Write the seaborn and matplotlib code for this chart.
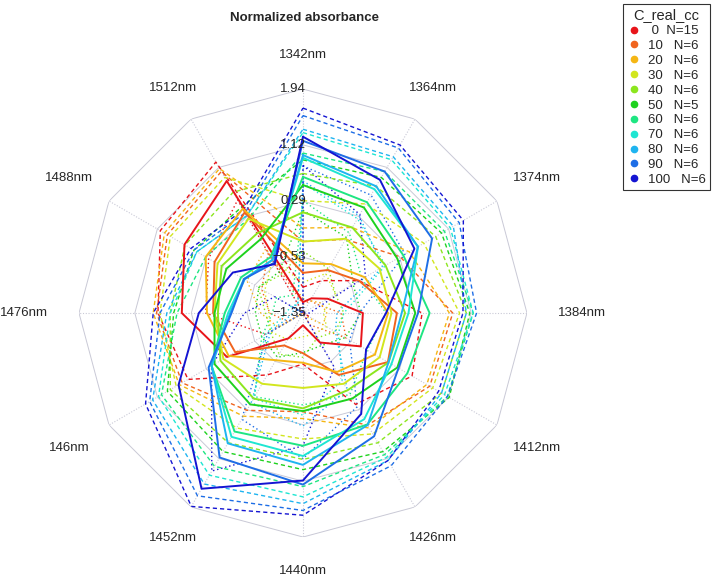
import numpy as np
import pandas as pd
import seaborn as sns
import matplotlib.pyplot as plt
from matplotlib.lines import Line2D
from matplotlib.transforms import offset_copy

# spokes, clockwise from the top
wavelengths = ["1342nm", "1364nm", "1374nm", "1384nm", "1412nm", "1426nm",
               "1440nm", "1452nm", "146nm", "1476nm", "1488nm", "1512nm"]
ticks = [-1.35, -0.53, 0.29, 1.12, 1.94]
conc = [0, 10, 20, 30, 40, 50, 60, 70, 80, 90, 100]
counts = [15, 6, 6, 6, 6, 5, 6, 6, 6, 6, 6]
colors = ["#e8141a", "#f0641e", "#f5b614", "#d2e61e", "#8ce61e", "#1ed21e",
          "#1ee682", "#1ee6d2", "#1eb4f0", "#1e6ee6", "#1414d2"]

# group means (solid lines)
mean_0 = [-1.19, -1.10, -0.93, -0.47, -0.37, -0.85, -1.17, -0.92, -0.06, 0.43, 0.66, 0.89]
mean_10 = [-0.76, -0.62, -0.40, 0.03, 0.09, -0.30, -0.76, -0.80, -0.20, -0.03, 0.15, 0.36]
mean_20 = [-0.62, -0.52, -0.30, -0.10, -0.13, -0.35, -0.62, -0.55, -0.09, 0.06, 0.30, 0.42]
mean_30 = [-0.30, -0.09, -0.05, -0.05, -0.05, -0.15, -0.25, -0.15, 0.00, -0.05, 0.10, 0.25]
mean_40 = [0.13, 0.10, 0.05, 0.15, 0.10, -0.04, 0.05, 0.10, 0.05, -0.10, 0.03, 0.00]
mean_50 = [0.53, 0.44, 0.25, 0.30, 0.25, 0.10, 0.09, 0.20, 0.15, -0.05, -0.05, -0.10]
mean_60 = [0.65, 0.53, 0.35, 0.51, 0.42, 0.54, 0.60, 0.66, 0.20, -0.20, -0.30, -0.40]
mean_70 = [0.93, 0.75, 0.60, 0.20, 0.15, 0.45, 0.75, 0.75, 0.20, -0.25, -0.35, -0.45]
mean_80 = [0.97, 0.80, 0.60, 0.10, 0.10, 0.55, 0.88, 0.86, 0.20, -0.28, -0.36, -0.45]
mean_90 = [1.18, 1.05, 0.84, 0.34, 0.27, 0.74, 1.17, 1.10, 0.25, -0.30, -0.35, -0.50]
mean_100 = [1.24, 0.91, 0.54, -0.13, -0.28, 0.36, 1.11, 1.63, 0.76, 0.18, -0.16, -0.52]

# group standard deviations (dashed = mean + sd, dotted = mean - sd)
sd_0 = [0.22, 0.30, 0.53, 0.87, 0.87, 1.05, 0.57, 0.62, 0.66, 0.35, 0.41, 0.32]
sd_10 = [0.46, 0.52, 0.70, 0.82, 0.71, 0.85, 0.86, 1.10, 0.90, 0.83, 0.80, 0.69]
sd_20 = [0.52, 0.62, 0.75, 0.90, 0.88, 0.95, 0.82, 0.95, 0.84, 0.79, 0.70, 0.68]
sd_30 = [0.60, 0.59, 0.75, 1.00, 0.90, 0.85, 0.75, 0.75, 0.80, 0.80, 0.80, 0.70]
sd_40 = [0.57, 0.70, 0.85, 0.90, 0.90, 0.89, 0.75, 0.75, 0.85, 0.70, 0.62, 0.70]
sd_50 = [0.37, 0.51, 0.75, 0.80, 0.88, 0.90, 0.86, 0.80, 0.80, 0.60, 0.55, 0.55]
sd_60 = [0.35, 0.52, 0.70, 0.64, 0.68, 0.51, 0.60, 0.59, 0.85, 0.70, 0.60, 0.65]
sd_70 = [0.37, 0.50, 0.55, 0.95, 0.90, 0.65, 0.60, 0.65, 0.90, 0.85, 0.80, 0.75]
sd_80 = [0.38, 0.50, 0.60, 0.95, 0.90, 0.60, 0.57, 0.69, 1.00, 0.93, 0.81, 0.75]
sd_90 = [0.37, 0.40, 0.46, 0.86, 0.83, 0.50, 0.38, 0.65, 1.00, 1.05, 0.85, 0.85]
sd_100 = [0.42, 0.59, 0.83, 1.13, 1.23, 0.79, 0.51, 0.30, 0.56, 0.67, 0.71, 0.92]

means = [mean_0, mean_10, mean_20, mean_30, mean_40, mean_50,
         mean_60, mean_70, mean_80, mean_90, mean_100]
sds = [sd_0, sd_10, sd_20, sd_30, sd_40, sd_50,
       sd_60, sd_70, sd_80, sd_90, sd_100]

#%%
n = len(wavelengths)
theta = np.deg2rad(np.arange(n) * 360 / n)
theta_c = np.append(theta, 2 * np.pi)
rmin, rmax = ticks[0], ticks[-1]

rows = []
for c, m, s in zip(conc, means, sds):
    m = np.array(m)
    s = np.array(s)
    for kind, vals in [("mean", m), ("upper", m + s), ("lower", np.maximum(m - s, rmin))]:
        vals_c = np.append(vals, vals[0])
        for t, v in zip(theta_c, vals_c):
            rows.append({"conc": str(c), "kind": kind, "theta": t, "value": v})
df = pd.DataFrame(rows)
pal = dict(zip([str(c) for c in conc], colors))

sns.set_style("white")
plt.rcParams["font.family"] = ["Liberation Sans", "DejaVu Sans"]

fig = plt.figure(figsize=(7.14, 5.79), dpi=100)
ax = fig.add_axes([0.1106, 0.0725, 0.6275, 0.7737], projection="polar")
ax.set_theta_zero_location("N")
ax.set_theta_direction(-1)

# polygon grid
gridc = "#c9c9d6"
for t in ticks[1:]:
    ax.plot(theta_c, [t] * len(theta_c), color=gridc, lw=0.7, zorder=0)
for th in theta:
    ax.plot([th, th], [rmin, rmax], color=gridc, lw=0.8, ls=(0, (1, 1.5)), zorder=0)

for kind, ls, lw in [("lower", (0, (1, 2)), 1.0),
                     ("upper", (0, (3, 2.2)), 1.0),
                     ("mean", "-", 1.4)]:
    sns.lineplot(data=df[df.kind == kind], x="theta", y="value", hue="conc",
                 palette=pal, sort=False, estimator=None, linestyle=ls,
                 linewidth=lw, legend=False, ax=ax)

ax.set_ylim(rmin, rmax)
ax.grid(False)
ax.set_xticks([])
ax.set_yticks([])
ax.set_xlabel("")
ax.set_ylabel("")
ax.spines["polar"].set_visible(False)

# spoke labels
px = (rmax - rmin) / 224.0
for th, lab in zip(theta, wavelengths):
    pad = 34 + 21 * np.sin(th) ** 4
    ax.text(th, rmax + pad * px, lab, ha="center", va="center", fontsize=9.5)

# radial tick labels on the top spoke
tr = offset_copy(ax.transData, fig=fig, x=3, y=0, units="dots")
for t in ticks:
    ax.text(0, t, f"{t:.2f}".replace("-", "\u2212"), transform=tr,
            ha="right", va="center", fontsize=9.5)

fig.text(305 / 714, 1 - 18 / 579, "Normalized absorbance", ha="center",
         va="center", fontsize=9.5, fontweight="bold")

handles = [Line2D([], [], ls="none", marker="o", markersize=4.5, color=c) for c in colors]
labels = [" 0  N=15"] + [f"{c}   N={k}" for c, k in zip(conc[1:], counts[1:])]
leg = fig.legend(handles, labels, title="C_real_cc", loc="upper right",
                 bbox_to_anchor=(0.998, 0.997), frameon=True, fancybox=False,
                 edgecolor="black", fontsize=9.5, title_fontsize=10.5,
                 handlelength=1.0, handletextpad=0.6, labelspacing=0.2,
                 borderpad=0.3, borderaxespad=0.2)
leg.get_frame().set_linewidth(0.8)

fig.savefig("out.png", dpi=100)
